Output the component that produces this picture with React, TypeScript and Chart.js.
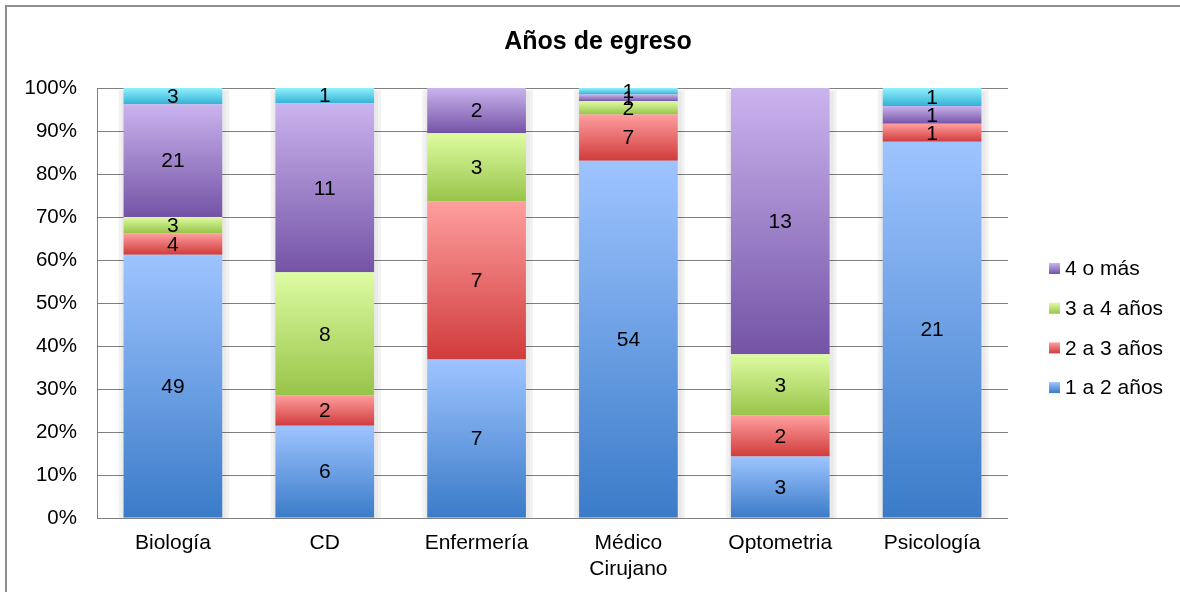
import React, { useEffect, useRef } from "react";
import { Chart, registerables } from "chart.js";

Chart.register(...registerables);

const categories: (string | string[])[] = ["Biología", "CD", "Enfermería", ["Médico", "Cirujano"], "Optometria", "Psicología"];
const s1a2 = [49, 6, 7, 54, 3, 21];
const s2a3 = [4, 2, 7, 7, 2, 1];
const s3a4 = [3, 8, 3, 2, 3, 0];
const s4mas = [21, 11, 2, 1, 13, 1];
const s5mas = [3, 1, 0, 1, 0, 1];
const yTicks = [0, 10, 20, 30, 40, 50, 60, 70, 80, 90, 100];

const seriesNames = ["1 a 2 años", "2 a 3 años", "3 a 4 años", "4 o más", "5 o más"];
const seriesCounts = [s1a2, s2a3, s3a4, s4mas, s5mas];
const seriesGrad: [string, string][] = [
  ["#9ec4ff", "#3a7bc8"],
  ["#ff9f9f", "#d03b3b"],
  ["#defca2", "#98c449"],
  ["#cab4ee", "#7453a6"],
  ["#92f0fd", "#33b2d5"],
];
const inLegend = [true, true, true, true, false];

const totals = categories.map((_, i) => seriesCounts.reduce((a, s) => a + s[i], 0));
const pct = seriesCounts.map((s) => s.map((v, i) => (v / totals[i]) * 100));

const FONT = "'Liberation Sans', Arial, sans-serif";

export default function App() {
  const ref = useRef<HTMLCanvasElement | null>(null);

  useEffect(() => {
    if (!ref.current) return;

    const grad = (ctx: any) => {
      const chart = ctx.chart;
      const di = ctx.datasetIndex;
      const colors = seriesGrad[di];
      if (ctx.dataIndex === undefined || !chart.scales || !chart.scales.y) return colors[1];
      const y = chart.scales.y;
      let start = 0;
      for (let k = 0; k < di; k++) start += pct[k][ctx.dataIndex];
      const end = start + pct[di][ctx.dataIndex];
      const yTop = y.getPixelForValue(end);
      const yBot = y.getPixelForValue(start);
      if (!isFinite(yTop) || !isFinite(yBot) || yTop === yBot) return colors[1];
      const g = chart.ctx.createLinearGradient(0, yTop, 0, yBot);
      g.addColorStop(0, colors[0]);
      g.addColorStop(1, colors[1]);
      return g;
    };

    const shadowPlugin = {
      id: "shadow",
      beforeDatasetsDraw(chart: any) {
        const meta = chart.getDatasetMeta(0);
        const c = chart.ctx;
        const y = chart.scales.y;
        const top = y.getPixelForValue(100);
        const bot = y.getPixelForValue(0);
        c.save();
        meta.data.forEach((el: any) => {
          const w = el.width;
          c.fillStyle = "rgba(0,0,0,0.05)";
          c.fillRect(el.x - w / 2 - 5, top + 2, w + 12, bot - top - 2);
          c.fillStyle = "rgba(0,0,0,0.04)";
          c.fillRect(el.x - w / 2 - 2, top + 4, w + 6, bot - top - 4);
        });
        c.restore();
      },
    };

    const labelsPlugin = {
      id: "valueLabels",
      afterDatasetsDraw(chart: any) {
        const c = chart.ctx;
        c.save();
        c.font = `21px ${FONT}`;
        c.fillStyle = "#000";
        c.textAlign = "center";
        c.textBaseline = "middle";
        chart.data.datasets.forEach((ds: any, di: number) => {
          const meta = chart.getDatasetMeta(di);
          meta.data.forEach((el: any, i: number) => {
            const v = seriesCounts[di][i];
            if (!v) return;
            c.fillText(String(v), el.x, (el.y + el.base) / 2 + 1);
          });
        });
        c.restore();
      },
    };

    const decorPlugin = {
      id: "decor",
      afterDraw(chart: any) {
        const c = chart.ctx;
        c.save();
        c.fillStyle = "#000";
        c.font = `bold 25px ${FONT}`;
        c.textAlign = "center";
        c.textBaseline = "alphabetic";
        c.fillText("Años de egreso", 598, 49);

        const order = [3, 2, 1, 0].filter((k) => inLegend[k]);
        c.font = `21px ${FONT}`;
        c.textAlign = "left";
        c.textBaseline = "middle";
        order.forEach((k, r) => {
          const cy = 268.5 + r * 39.7;
          const g = c.createLinearGradient(0, cy - 5.5, 0, cy + 5.5);
          g.addColorStop(0, seriesGrad[k][0]);
          g.addColorStop(1, seriesGrad[k][1]);
          c.fillStyle = g;
          c.fillRect(1049, cy - 5.5, 11, 11);
          c.fillStyle = "#000";
          c.fillText(seriesNames[k], 1065, cy + 1);
        });
        c.restore();
      },
    };

    const chart = new Chart(ref.current, {
      type: "bar",
      data: {
        labels: categories as any,
        datasets: pct.map((d, k) => ({
          label: seriesNames[k],
          data: d,
          backgroundColor: grad,
          borderWidth: 0,
          barPercentage: 0.65,
          categoryPercentage: 1,
        })),
      },
      options: {
        responsive: false,
        animation: false,
        layout: { padding: { left: 0, right: 172, top: 88, bottom: 0 } },
        plugins: {
          legend: { display: false },
          title: { display: false },
          tooltip: { enabled: false },
        },
        scales: {
          x: {
            stacked: true,
            grid: { display: false, drawTicks: false },
            border: { display: false },
            ticks: {
              color: "#000",
              font: { family: FONT, size: 21 },
              padding: 13,
              maxRotation: 0,
              autoSkip: false,
            },
            afterFit: (s: any) => {
              s.height = 74;
            },
          },
          y: {
            stacked: true,
            min: 0,
            max: 100,
            afterBuildTicks: (s: any) => {
              s.ticks = yTicks.map((v) => ({ value: v }));
            },
            grid: { color: "#808080", lineWidth: 1, drawTicks: false },
            border: { display: true, color: "#808080", width: 1 },
            ticks: {
              color: "#000",
              font: { family: FONT, size: 20.5 },
              padding: 20,
              callback: (v: any) => `${v}%`,
            },
            afterFit: (s: any) => {
              s.width = 97;
            },
          },
        },
      },
      plugins: [shadowPlugin, labelsPlugin, decorPlugin],
    });
    return () => chart.destroy();
  }, []);

  return (
    <div style={{ position: "fixed", left: 0, top: 0, width: 1180, height: 592, background: "#fff", overflow: "hidden" }}>
      <div
        style={{
          position: "absolute",
          left: 5,
          top: 5,
          width: 1300,
          height: 800,
          borderLeft: "2px solid #8e8e8e",
          borderTop: "2px solid #8e8e8e",
        }}
      />
      <canvas ref={ref} width={1180} height={592} style={{ position: "absolute", left: 0, top: 0, display: "block" }} />
    </div>
  );
}
